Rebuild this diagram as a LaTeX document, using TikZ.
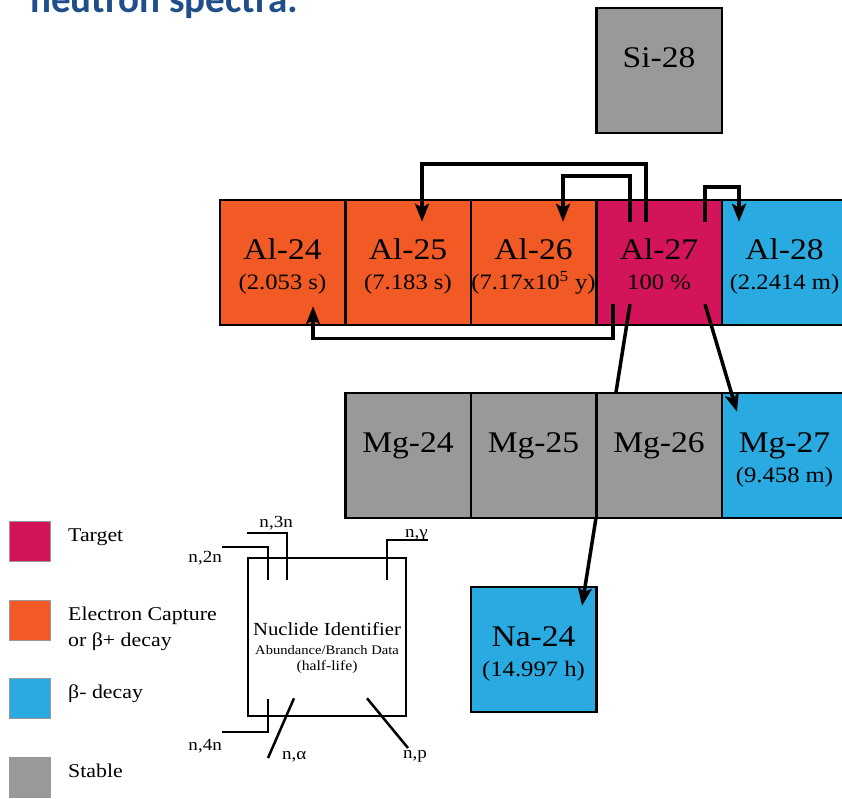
\documentclass[tikz,border=0pt]{standalone}
\usepackage{fontspec}
\setmainfont{Liberation Serif}[FakeStretch=1.12]
\newfontfamily\titlefont{Carlito}
\usetikzlibrary{arrows.meta}

\definecolor{ecorange}{HTML}{F15A24}
\definecolor{target}{HTML}{D4145A}
\definecolor{betaminus}{HTML}{29ABE2}
\definecolor{stable}{HTML}{999999}
\definecolor{titleblue}{RGB}{32,78,138}

\newcommand{\nuc}[2]{{\fontsize{30}{30}\selectfont\rule{0pt}{30pt}#1}\\#2\rule[-7pt]{0pt}{7pt}}

\tikzset{
  nucbox/.style={draw=black, line width=2.5pt, minimum width=125.5pt, minimum height=125pt,
    inner sep=0pt, align=center, font=\fontsize{22}{30}\selectfont},
  react/.style={line width=3.5pt, -{Stealth[length=18pt,width=14pt,inset=4pt]}},
  idline/.style={line width=2.5pt},
  idlbl/.style={inner sep=0pt, font=\fontsize{17}{20}\selectfont},
  legbox/.style={draw=black!40, line width=0.8pt, minimum width=41pt, minimum height=40pt, inner sep=0pt},
  leglbl/.style={anchor=base west, inner sep=0pt, font=\fontsize{19.5}{24}\selectfont}
}

\begin{document}
\begin{tikzpicture}[x=1pt,y=-1pt]
\useasboundingbox (0,0) rectangle (842,798);
\clip (0,0) rectangle (842,798);
\node[anchor=base west, inner sep=0pt, text=titleblue, font=\titlefont\bfseries\fontsize{39}{40}\selectfont] (title) at (30,12) {neutron spectra:};

\node[nucbox, fill=stable] (si28) at (659,70.5) {\nuc{Si-28}{}};
\node[nucbox, fill=ecorange] (al24) at (282.5,262.5) {\nuc{Al-24}{(2.053 s)}};
\node[nucbox, fill=ecorange] (al25) at (408,262.5) {\nuc{Al-25}{(7.183 s)}};
\node[nucbox, fill=ecorange] (al26) at (533.5,262.5) {\nuc{Al-26}{(7.17x10\textsuperscript{5} y)}};
\node[nucbox, fill=target] (al27) at (659,262.5) {\nuc{Al-27}{100 \%}};
\node[nucbox, fill=betaminus] (al28) at (784.5,262.5) {\nuc{Al-28}{(2.2414 m)}};
\node[nucbox, fill=betaminus] (na24) at (533.5,649.5) {\nuc{Na-24}{(14.997 h)}};
\draw[react] ([xshift=-29pt,yshift=22pt]al27.south) -- ([xshift=48.5pt,yshift=-20pt]na24.north);
\node[nucbox, fill=stable] (mg24) at (408,455.5) {\nuc{Mg-24}{}};
\node[nucbox, fill=stable] (mg25) at (533.5,455.5) {\nuc{Mg-25}{}};
\node[nucbox, fill=stable] (mg26) at (659,455.5) {\nuc{Mg-26}{}};
\node[nucbox, fill=betaminus] (mg27) at (784.5,455.5) {\nuc{Mg-27}{(9.458 m)}};

\draw[react] ([xshift=-13pt,yshift=-23pt]al27.north) -- ++(0,-58) -| ([xshift=14pt,yshift=-23pt]al25.north);
\draw[react] ([xshift=-29pt,yshift=-23pt]al27.north) -- ++(0,-46) -| ([xshift=29.5pt,yshift=-23pt]al26.north);
\draw[react] ([xshift=46pt,yshift=-23pt]al27.north) -- ++(0,-35) -| ([xshift=-45.5pt,yshift=-23pt]al28.north);
\draw[react] ([xshift=-46pt,yshift=22pt]al27.south) -- ++(0,34) -| ([xshift=30.5pt,yshift=20pt]al24.south);
\draw[react] ([xshift=46pt,yshift=22pt]al27.south) -- ([xshift=-47.5pt,yshift=-20pt]mg27.north);

\node[legbox, fill=target] (legt) at (29.5,541) {};
\node[leglbl] (legtl) at (68,541) {Target};
\node[legbox, fill=ecorange] (lege) at (29.5,620) {};
\node[leglbl] (legel) at (68,620) {Electron Capture};
\node[leglbl] (legel2) at (68,646) {or β+ decay};
\node[legbox, fill=betaminus] (legb) at (29.5,698) {};
\node[leglbl] (legbl) at (68,698) {β- decay};
\node[legbox, fill=stable] (legs) at (29.5,777) {};
\node[leglbl] (legsl) at (68,777) {Stable};

\node[draw=black, line width=2.5pt, minimum size=158pt, inner sep=0pt] (id) at (327,637) {};
\node[anchor=base, inner sep=0pt, font=\fontsize{18.5}{20}\selectfont] (idname) at (327,635) {Nuclide Identifier};
\node[anchor=base, inner sep=0pt, font=\fontsize{13}{15}\selectfont] (idabund) at (327,654) {Abundance/Branch Data};
\node[anchor=base, inner sep=0pt, font=\fontsize{14}{16}\selectfont] (idhalf) at (327,670) {(half-life)};

\coordinate (e2n) at (222,547);
\coordinate (e3n) at (247,533);
\coordinate (eng) at (428,540);
\coordinate (e4n) at (222,732);
\coordinate (ena) at (268,758);
\coordinate (enp) at (408,748);
\draw[idline] ([xshift=-59pt,yshift=-23pt]id.north) |- (e2n);
\draw[idline] ([xshift=-40pt,yshift=-23pt]id.north) |- (e3n);
\draw[idline] ([xshift=60pt,yshift=-23pt]id.north) |- (eng);
\draw[idline] ([xshift=-59pt,yshift=18pt]id.south) |- (e4n);
\draw[idline] ([xshift=-33pt,yshift=19pt]id.south) -- (ena);
\draw[idline] ([xshift=40pt,yshift=19pt]id.south) -- (enp);
\node[idlbl, anchor=base east] (l2n) at (222,562) {n,2n};
\node[idlbl, anchor=base east] (l3n) at (293,527) {n,3n};
\node[idlbl, anchor=base west] (lng) at (405,537) {n,γ};
\node[idlbl, anchor=base east] (l4n) at (222,750) {n,4n};
\node[idlbl, anchor=base west] (lna) at (282,759) {n,α};
\node[idlbl, anchor=base west] (lnp) at (403,758) {n,p};
\end{tikzpicture}
\end{document}
